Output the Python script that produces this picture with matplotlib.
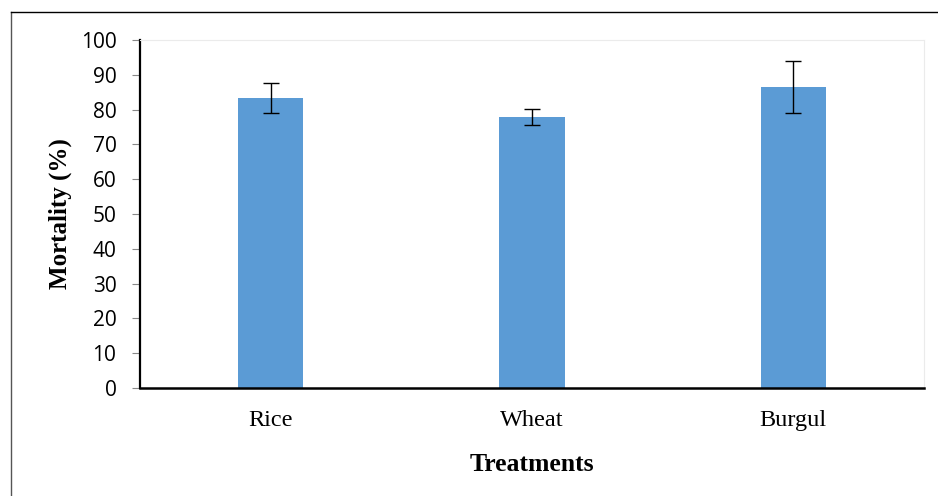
import matplotlib.pyplot as plt
from matplotlib.lines import Line2D

treatments = ["Rice", "Wheat", "Burgul"]
mortality = [83.3, 77.9, 86.5]
std_err = [4.4, 2.2, 7.6]
y_ticks = [0, 10, 20, 30, 40, 50, 60, 70, 80, 90, 100]

fig = plt.figure(figsize=(9.38, 4.96), dpi=100)
ax = fig.add_axes([0.1493, 0.2177, 0.8357, 0.7017])

x = range(len(treatments))
ax.bar(x, mortality, width=0.25, color='#5B9BD5', zorder=2)
ax.errorbar(x, mortality, yerr=std_err, fmt='none', ecolor='black',
            elinewidth=1.0, capsize=6, capthick=1.0, zorder=3)

ax.set_xlim(-0.5, 2.5)
ax.set_ylim(0, 100)
ax.set_yticks(y_ticks)
ax.set_xticks(list(x))
ax.set_xticklabels(treatments, fontfamily='Liberation Serif', fontsize=17.5)
for lab in ax.get_yticklabels():
  lab.set_fontfamily('Open Sans')
  lab.set_fontsize(15)
ax.tick_params(axis='x', length=0, pad=16)
ax.tick_params(axis='y', length=6, color='#888888', pad=11)

ax.spines['left'].set_linewidth(1.6)
ax.spines['bottom'].set_linewidth(1.8)
ax.spines['top'].set_color('#ebebeb')
ax.spines['right'].set_color('#ebebeb')

ax.set_ylabel('Mortality (%)', fontfamily='Liberation Serif', fontsize=18,
              fontweight='bold', labelpad=6)
ax.set_xlabel('Treatments', fontfamily='Liberation Serif', fontsize=18.5,
              fontweight='bold', labelpad=16)

# outer frame (left and top edges only visible)
fig.add_artist(Line2D([11/938, 11/938], [0, 1 - 12/496], color='#555555',
                      lw=1.0, transform=fig.transFigure))
fig.add_artist(Line2D([11/938, 1], [1 - 12/496, 1 - 12/496], color='black',
                      lw=1.0, transform=fig.transFigure))

fig.savefig('out.png', dpi=100)
